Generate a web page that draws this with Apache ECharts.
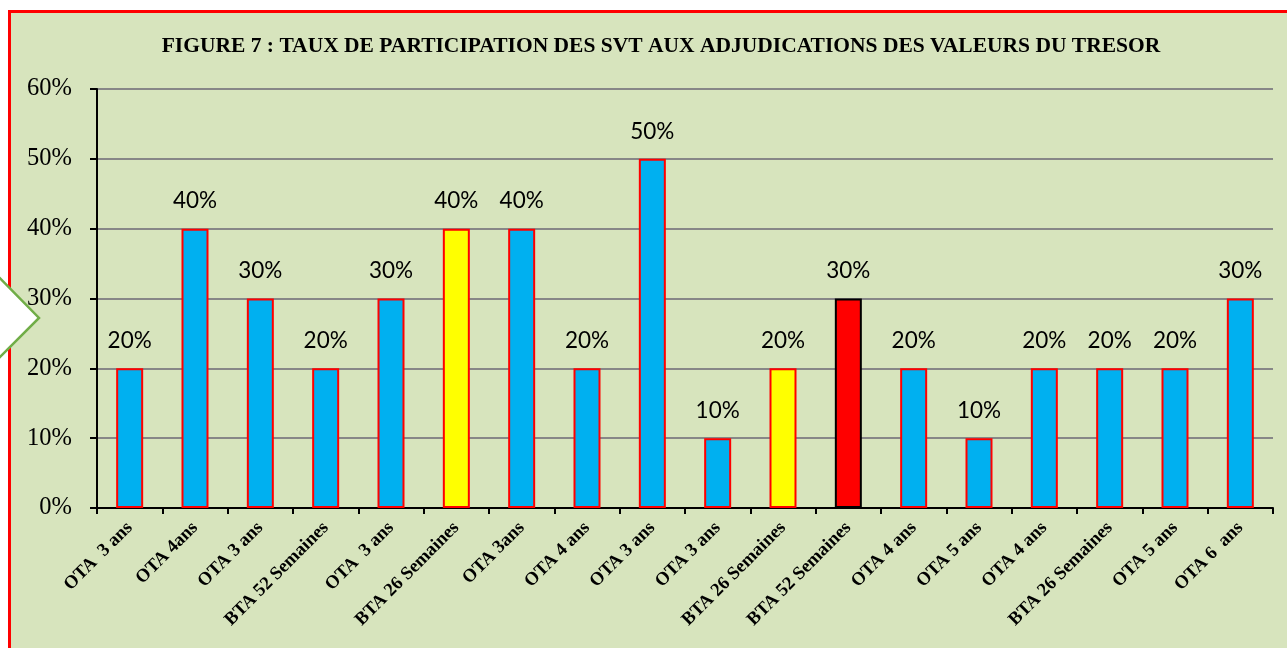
<!DOCTYPE html>
<html><head><meta charset="utf-8">
<script src="https://cdn.jsdelivr.net/npm/echarts@6/dist/echarts.min.js"></script>
<style>
html,body{margin:0;padding:0;background:#fff;width:1287px;height:648px;overflow:hidden;}
#frame{position:absolute;left:8px;top:10px;width:1300px;height:700px;background:#D7E4BD;border-left:3px solid #FF0000;border-top:3px solid #FF0000;box-sizing:border-box;}
#chart{position:absolute;left:0;top:0;width:1287px;height:648px;}
</style></head>
<body>
<div id="frame"></div>
<div id="chart"></div>
<script>
const titleText = 'FIGURE 7 : TAUX DE PARTICIPATION DES SVT AUX ADJUDICATIONS DES VALEURS DU TRESOR';
const categories = ['OTA  3 ans','OTA 4ans','OTA 3 ans','BTA 52 Semaines','OTA  3 ans','BTA 26 Semaines','OTA 3ans','OTA 4 ans','OTA 3 ans','OTA 3 ans','BTA 26 Semaines','BTA 52 Semaines','OTA 4 ans','OTA 5 ans','OTA 4 ans','BTA 26 Semaines','OTA 5 ans','OTA 6  ans'];
const values = [20,40,30,20,30,40,40,20,50,10,20,30,20,10,20,20,20,30];
const barFill = ['#00B0F0','#00B0F0','#00B0F0','#00B0F0','#00B0F0','#FFFF00','#00B0F0','#00B0F0','#00B0F0','#00B0F0','#FFFF00','#FF0000','#00B0F0','#00B0F0','#00B0F0','#00B0F0','#00B0F0','#00B0F0'];
const barBorder = ['#FF0000','#FF0000','#FF0000','#FF0000','#FF0000','#FF0000','#FF0000','#FF0000','#FF0000','#FF0000','#FF0000','#000000','#FF0000','#FF0000','#FF0000','#FF0000','#FF0000','#FF0000'];

const chart = echarts.init(document.getElementById('chart'));
chart.setOption({
  backgroundColor: 'transparent',
  animation: false,
  title: {
    text: titleText, left: 656, top: 30, textAlign: 'center',
    textStyle: {fontFamily: 'Liberation Serif', fontWeight: 'bold', fontSize: 21.5, color: '#000'}
  },
  grid: {left: 97, right: 14, top: 89, bottom: 140, containLabel: false},
  xAxis: {
    type: 'category', data: categories,
    axisLine: {lineStyle: {color: '#000', width: 2}},
    axisTick: {show: true, length: 6, lineStyle: {color: '#000', width: 2}, alignWithLabel: false},
    axisLabel: {rotate: 45, interval: 0, margin: 17, fontFamily: 'Liberation Serif', fontWeight: 'bold', fontSize: 18.5, color: '#000'}
  },
  yAxis: {
    type: 'value', min: 0, max: 60, interval: 10,
    axisLine: {show: true, lineStyle: {color: '#000', width: 2}},
    axisTick: {show: true, length: 7, lineStyle: {color: '#000', width: 2}},
    axisLabel: {formatter: '{value}%', margin: 25, fontFamily: 'Liberation Serif', fontSize: 24.5, color: '#000'},
    splitLine: {show: true, lineStyle: {color: '#878787', width: 2}}
  },
  series: [{
    type: 'bar', barWidth: 27,
    data: values.map((v, i) => ({value: v, itemStyle: {color: barFill[i], borderColor: barBorder[i], borderWidth: 2}})),
    label: {show: true, position: 'top', distance: 16, formatter: '{c}%', fontFamily: 'Lato', fontSize: 22.5, color: '#000'}
  }],
  graphic: [{
    type: 'polygon', z: 100, silent: true,
    shape: {points: [[-10, 268], [39, 318], [-10, 367]]},
    style: {fill: '#FFFFFF', stroke: '#70AD47', lineWidth: 2.5}
  }]
});
</script>
</body></html>
